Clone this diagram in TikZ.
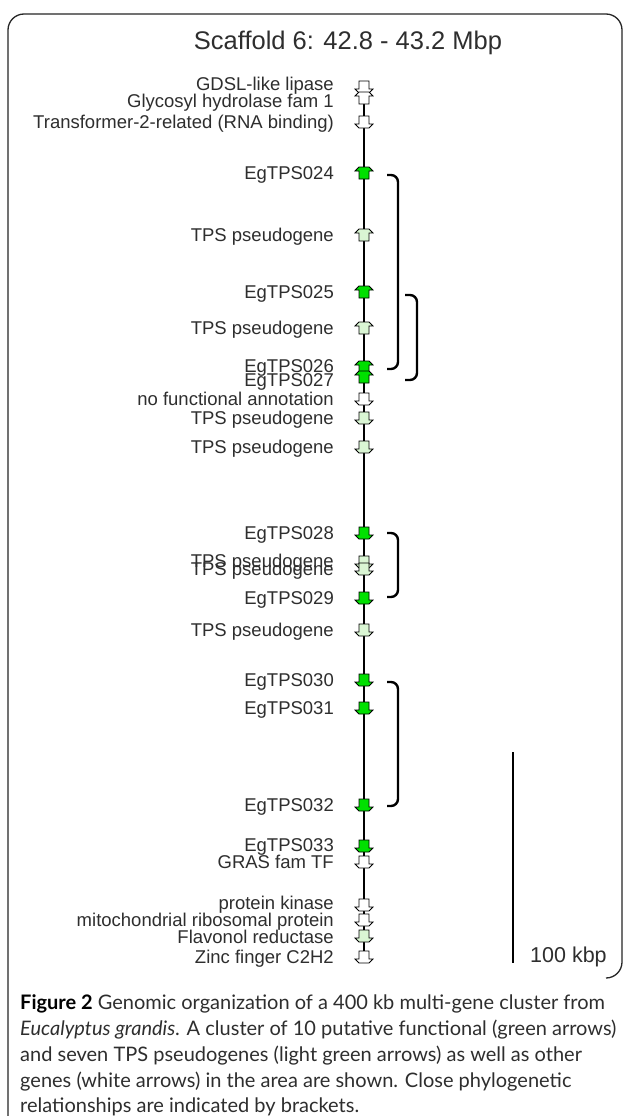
\documentclass[tikz,border=0pt]{standalone}
\usepackage{fontspec}
\setmainfont{Liberation Sans}
\newfontfamily\capfont{Lato}
\definecolor{gfun}{HTML}{00E000}
\definecolor{gpse}{HTML}{DAF6D4}
\definecolor{txt}{HTML}{2E2E2E}
\tikzset{
  lbl/.style={anchor=base east, inner sep=0pt, font=\fontsize{18.5}{20}\selectfont, text=txt},
  gl/.style={draw=black, line width=0.8pt},
  chrom/.style={line width=2.6pt, black},
  brk/.style={line width=2.4pt, black, rounded corners=7pt},
  frame/.style={line width=1.3pt, black!85, rounded corners=16pt},
  capl/.style={anchor=base west, inner sep=0pt, font=\capfont\fontsize{20}{22}\selectfont, text=txt},
}
% name, glyph y, fill, dir (1 down, -1 up), label, label y
\newcommand\gn[6]{%
  \node[lbl] (#1) at (334,#6+6) {#5};
  \begin{scope}[shift={(364,#2)}, yscale=#4]
    \filldraw[gl, fill=#3] (-5,-6) -- (5,-6) -- (5,2) -- (9,2) -- (5,6) -- (-5,6) -- (-9,2) -- (-5,2) -- cycle;
  \end{scope}
}
\begin{document}
\begin{tikzpicture}[x=1pt, y=-1pt]
\useasboundingbox (0,0) rectangle (627,1116);
\fill[white] (0,0) rectangle (627,1116);
% frame
\coordinate (fa) at (8,1116);
\coordinate (fb) at (8,14);
\coordinate (fc) at (622,14);
\coordinate (fd) at (622,978);
\coordinate (fe) at (606,978);
\draw[frame] (fa) -- (fb) -- (fc) -- (fd) -- (fe);
% title
\node[anchor=base, inner sep=0pt, font=\fontsize{25.5}{28}\selectfont, text=txt] (title) at (348,50) {Scaffold 6: 42.8 - 43.2 Mbp};
% chromosome
\coordinate (ctop) at (364,84);
\coordinate (cbot) at (364,962);
\draw[chrom] (ctop) -- (cbot);
% genes
\gn{g1}{87}{white}{1}{GDSL-like lipase}{84}
\gn{g2}{98}{white}{-1}{Glycosyl hydrolase fam 1}{101}
\gn{g3}{122}{white}{1}{Transformer-2-related (RNA binding)}{122}
\gn{g4}{173}{gfun}{-1}{EgTPS024}{173}
\gn{g5}{235}{gpse}{-1}{TPS pseudogene}{235}
\gn{g6}{292}{gfun}{-1}{EgTPS025}{292}
\gn{g7}{328}{gpse}{-1}{TPS pseudogene}{328}
\gn{g8}{367}{gfun}{-1}{EgTPS026}{366}
\gn{g9}{377}{gfun}{-1}{EgTPS027}{380}
\gn{g10}{399}{white}{1}{no functional annotation}{399}
\gn{g11}{418}{gpse}{1}{TPS pseudogene}{418}
\gn{g12}{447}{gpse}{1}{TPS pseudogene}{447}
\gn{g13}{533}{gfun}{1}{EgTPS028}{533}
\gn{g14}{562}{gpse}{1}{TPS pseudogene}{561}
\gn{g15}{569}{gpse}{1}{TPS pseudogene}{569}
\gn{g16}{598}{gfun}{1}{EgTPS029}{598}
\gn{g17}{630}{gpse}{1}{TPS pseudogene}{630}
\gn{g18}{680}{gfun}{1}{EgTPS030}{680}
\gn{g19}{708}{gfun}{1}{EgTPS031}{708}
\gn{g20}{805}{gfun}{1}{EgTPS032}{805}
\gn{g21}{846}{gfun}{1}{EgTPS033}{845}
\gn{g22}{862}{white}{1}{GRAS fam TF}{862}
\gn{g23}{905}{white}{1}{protein kinase}{903}
\gn{g24}{920}{white}{1}{mitochondrial ribosomal protein}{920}
\gn{g25}{936}{gpse}{1}{Flavonol reductase}{937}
\gn{g26}{957}{white}{1}{Zinc finger C2H2}{957}
% brackets
\coordinate (b1t) at (387,175); \coordinate (b1b) at (387,369);
\coordinate (b2t) at (405,295); \coordinate (b2b) at (405,380);
\coordinate (b3t) at (387,533); \coordinate (b3b) at (387,597);
\coordinate (b4t) at (387,682); \coordinate (b4b) at (387,806);
\draw[brk] (b1t) -- ++(11,0) |- (b1b);
\draw[brk] (b2t) -- ++(12,0) |- (b2b);
\draw[brk] (b3t) -- ++(11,0) |- (b3b);
\draw[brk] (b4t) -- ++(11,0) |- (b4b);
% scale bar
\coordinate (sbt) at (513,752);
\coordinate (sbb) at (513,963);
\draw[line width=2.6pt, black] (sbt) -- (sbb);
\node[anchor=base west, inner sep=0pt, font=\fontsize{21.5}{24}\selectfont, text=txt] (sbl) at (530,962) {100 kbp};
% caption
\node[capl] (cap1) at (20,1009) {{\bfseries\color{black}Figure 2} Genomic organization of a 400 kb multi-gene cluster from};
\node[capl] (cap2) at (20,1035) {\itshape Eucalyptus grandis\upshape. A cluster of 10 putative functional (green arrows)};
\node[capl] (cap3) at (20,1061) {and seven TPS pseudogenes (light green arrows) as well as other};
\node[capl] (cap4) at (20,1087) {genes (white arrows) in the area are shown. Close phylogenetic};
\node[capl] (cap5) at (20,1112) {relationships are indicated by brackets.};
\end{tikzpicture}
\end{document}
